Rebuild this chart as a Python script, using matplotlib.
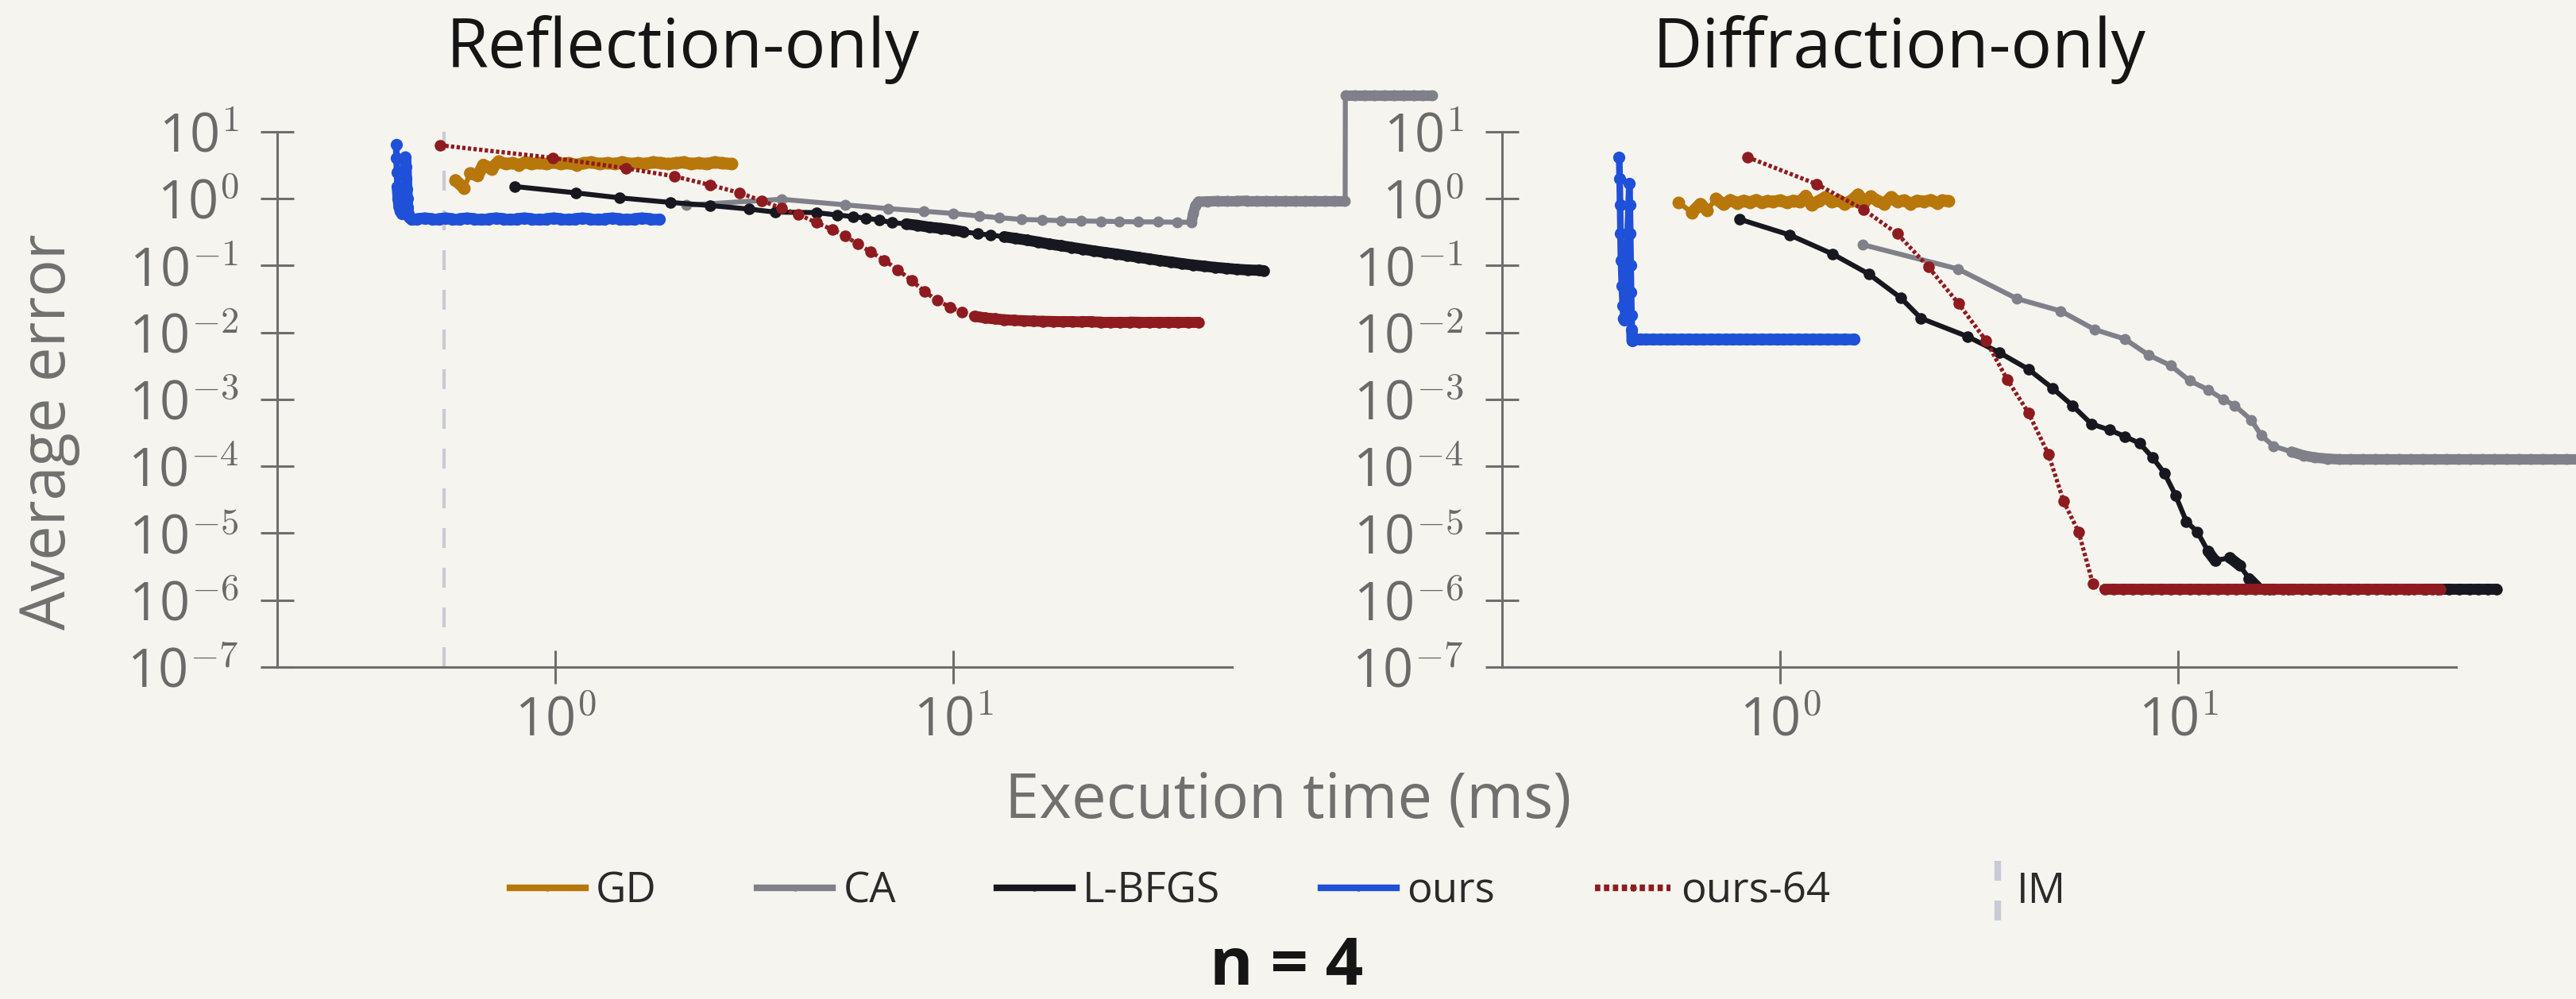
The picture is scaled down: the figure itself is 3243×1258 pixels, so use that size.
import numpy as np
import matplotlib
matplotlib.use('Agg')
import matplotlib.pyplot as plt
from matplotlib.lines import Line2D
from matplotlib.collections import LineCollection
from matplotlib.legend_handler import HandlerBase
from matplotlib.ticker import FixedLocator, FuncFormatter, NullLocator

# ---------------- data ----------------
methods = ['GD', 'CA', 'L-BFGS', 'ours', 'ours-64']
im_time_refl = 0.526

# Reflection-only
refl_gd_x = [0.561, 0.590, 0.61, 0.638, 0.659, 0.69, 0.72, 0.75, 0.78, 0.81, 0.84, 0.87, 0.91, 0.95, 0.99,
             1.03, 1.08, 1.13, 1.18, 1.23, 1.29, 1.35, 1.41, 1.47, 1.54, 1.61, 1.68, 1.76, 1.84, 1.92,
             2.01, 2.10, 2.19, 2.29, 2.40, 2.51, 2.62, 2.77]
refl_gd_y = [1.89, 1.43, 2.4, 2.2, 3.2, 2.8, 3.6, 3.3, 3.4, 3.2, 3.5, 3.3, 3.4, 3.3, 3.5,
             3.3, 3.4, 3.2, 3.4, 3.5, 3.3, 3.4, 3.3, 3.5, 3.3, 3.4, 3.3, 3.5, 3.4, 3.3,
             3.4, 3.5, 3.3, 3.4, 3.3, 3.5, 3.4, 3.3]

refl_ca_x = [2.13, 3.70, 5.33, 6.86, 8.42, 10.0, 11.6, 13.0, 14.8, 16.7, 18.6, 20.9, 23.4, 26.1, 29.1,
             32.6, 36.5, 39.6, 40.0, 40.5, 41.2, 43.5, 46.0, 48.7, 51.5, 54.5, 57.7, 61.0, 64.5, 68.2,
             72.2, 76.4, 80.8, 85.5, 90.5, 96.3, 96.4, 102, 108, 114, 121, 128, 135, 143, 151, 159]
refl_ca_y = [0.80, 0.98, 0.81, 0.71, 0.65, 0.60, 0.55, 0.52, 0.49, 0.48, 0.47, 0.465, 0.46, 0.455, 0.45,
             0.45, 0.445, 0.445, 0.60, 0.78, 0.90, 0.91, 0.92, 0.92, 0.92, 0.93, 0.93, 0.93, 0.93, 0.93,
             0.93, 0.93, 0.93, 0.93, 0.93, 0.93, 35, 35, 35, 35, 35, 35, 35, 35, 35, 35]

refl_lb_x = [0.791, 1.127, 1.45, 1.94, 2.45, 3.06, 3.56, 4.52, 5.1, 5.6, 6.03, 6.5, 7.0, 7.6, 8.1, 8.7,
             9.3, 10.0, 10.6, 11.5, 12.4, 13.4, 14.3, 15.3, 16.3, 17.4, 18.6, 19.8, 21.1, 22.5, 24.0,
             25.6, 27.3, 29.1, 31.0, 33.0, 35.2, 37.5, 40.0, 42.6, 45.4, 48.4, 51.5, 54.9, 58.5, 60.1]
refl_lb_y = [1.52, 1.22, 1.03, 0.88, 0.79, 0.70, 0.63, 0.62, 0.57, 0.54, 0.51, 0.48, 0.44, 0.42, 0.40, 0.375,
             0.36, 0.34, 0.32, 0.30, 0.286, 0.27, 0.255, 0.24, 0.225, 0.21, 0.198, 0.187, 0.176, 0.166, 0.157,
             0.149, 0.141, 0.133, 0.126, 0.119, 0.113, 0.107, 0.102, 0.098, 0.094, 0.091, 0.088, 0.086, 0.085,
             0.084]

refl_ours_x = [0.398, 0.399, 0.400, 0.401, 0.403, 0.405, 0.408, 0.412, 0.416, 0.420, 0.421, 0.422, 0.423,
               0.424, 0.425, 0.427, 0.430, 0.435, 0.45, 0.47, 0.49, 0.51, 0.53, 0.55, 0.575, 0.60, 0.625,
               0.65, 0.68, 0.71, 0.74, 0.77, 0.80, 0.835, 0.87, 0.91, 0.95, 0.99, 1.03, 1.08, 1.12, 1.17,
               1.22, 1.28, 1.33, 1.39, 1.45, 1.51, 1.58, 1.65, 1.73, 1.82]
refl_ours_y = [6.4, 4.0, 2.5, 1.5, 1.0, 0.75, 0.65, 0.60, 0.60, 4.2, 3.0, 2.0, 1.4,
               1.0, 0.75, 0.60, 0.52, 0.50, 0.50, 0.51, 0.50, 0.50, 0.51, 0.50, 0.50, 0.51, 0.50,
               0.50, 0.50, 0.51, 0.50, 0.50, 0.50, 0.51, 0.50, 0.50, 0.50, 0.51, 0.50, 0.50, 0.50, 0.51,
               0.50, 0.50, 0.50, 0.51, 0.50, 0.50, 0.50, 0.51, 0.50, 0.50]

refl_o64_x = [0.512, 0.986, 1.50, 1.99, 2.45, 2.9, 3.3, 3.7, 4.08, 4.52, 4.96, 5.33, 5.74, 6.2, 6.7, 7.25,
              7.85, 8.45, 9.1, 9.8, 10.5, 11.3, 12.0, 12.7, 13.4, 14.2, 15.0, 15.9, 16.8, 17.8, 18.8, 19.9,
              21.0, 22.2, 23.5, 24.8, 26.2, 27.7, 29.3, 31.0, 32.8, 34.7, 36.7, 38.9, 41.3]
refl_o64_y = [6.3, 4.07, 2.85, 2.16, 1.6, 1.22, 0.93, 0.72, 0.58, 0.44, 0.345, 0.28, 0.21, 0.16, 0.12, 0.086,
              0.06, 0.041, 0.030, 0.024, 0.020, 0.0175, 0.0165, 0.016, 0.0155, 0.0152, 0.015, 0.0148, 0.0147,
              0.0146, 0.0145, 0.0145, 0.0144, 0.0144, 0.0143, 0.0143, 0.0143, 0.0143, 0.0142, 0.0142, 0.0142,
              0.0142, 0.0142, 0.0142, 0.0142]

# Diffraction-only
diff_gd_x = [0.556, 0.60, 0.63, 0.655, 0.69, 0.72, 0.75, 0.78, 0.81, 0.84, 0.87, 0.90, 0.93, 0.96, 1.00,
             1.04, 1.08, 1.12, 1.16, 1.20, 1.25, 1.30, 1.35, 1.40, 1.45, 1.51, 1.57, 1.63, 1.69, 1.76,
             1.83, 1.90, 1.97, 2.05, 2.13, 2.21, 2.30, 2.39, 2.48, 2.56, 2.65]
diff_gd_y = [0.88, 0.62, 0.83, 0.67, 1.0, 0.82, 0.95, 0.86, 0.93, 0.88, 0.95, 0.87, 0.92, 0.90, 0.94,
             0.87, 0.93, 0.89, 1.1, 0.80, 0.92, 1.05, 0.89, 0.94, 0.84, 0.93, 1.15, 0.89, 1.08, 0.92,
             0.84, 1.05, 0.90, 0.94, 0.84, 0.93, 0.90, 0.95, 0.86, 0.94, 0.92]

diff_ca_x = [1.61, 2.80, 3.94, 5.07, 6.17, 7.35, 8.44, 9.6, 10.7, 11.9, 13.0, 13.9, 15.3, 16.2, 17.4, 19.3,
             20.7, 22.1, 23.7, 25.4, 27.2, 29.2, 31.3, 33.5, 35.9, 38.5, 41.2, 44.2, 47.3, 50.7, 54.4,
             58.3, 62.5, 67.0, 71.8, 77.0, 82.5, 88.4, 94.8, 101.6, 108.9, 116.7]
diff_ca_y = [0.206, 0.089, 0.032, 0.021, 0.0111, 0.0080, 0.0046, 0.0032, 0.0019, 0.0014, 0.00100, 8.1e-4,
             4.9e-4, 2.9e-4, 2.0e-4, 1.65e-4, 1.45e-4, 1.35e-4, 1.3e-4, 1.27e-4, 1.27e-4, 1.27e-4, 1.27e-4,
             1.27e-4, 1.27e-4, 1.27e-4, 1.27e-4, 1.27e-4, 1.27e-4, 1.27e-4, 1.27e-4, 1.27e-4, 1.27e-4,
             1.27e-4, 1.27e-4, 1.27e-4, 1.27e-4, 1.27e-4, 1.27e-4, 1.27e-4, 1.27e-4, 1.27e-4]

diff_lb_x = [0.79, 1.057, 1.355, 1.67, 2.01, 2.26, 2.96, 3.56, 4.21, 4.84, 5.43, 6.06, 6.73, 7.35, 8.02,
             8.63, 9.25, 9.86, 10.5, 11.2, 11.9, 12.4, 13.5, 14.3, 15.1, 15.8, 17.0, 19.0, 21.5, 24.0,
             27.0, 30.0, 34.0, 38.0, 42.0, 45.0, 48.0, 51.0, 54.0, 57.0, 60.0, 63.2]
diff_lb_y = [0.494, 0.287, 0.149, 0.075, 0.033, 0.0163, 0.0087, 0.0050, 0.00282, 0.00147, 0.00081,
             0.00043, 0.00035, 0.00028, 0.00022, 0.000136, 7.9e-5, 3.7e-5, 1.5e-5, 1.04e-5, 5.4e-6, 3.9e-6,
             4.3e-6, 3.3e-6, 2.1e-6, 1.6e-6, 1.45e-6, 1.45e-6, 1.45e-6, 1.45e-6, 1.45e-6, 1.45e-6, 1.45e-6,
             1.45e-6, 1.45e-6, 1.45e-6, 1.45e-6, 1.45e-6, 1.45e-6, 1.45e-6, 1.45e-6, 1.45e-6]

diff_ours_x = [0.394, 0.395, 0.396, 0.397, 0.398, 0.400, 0.402, 0.404, 0.406, 0.418, 0.419, 0.420, 0.421,
               0.422, 0.423, 0.424, 0.425, 0.427, 0.43, 0.445, 0.46, 0.48, 0.50, 0.52, 0.54, 0.565, 0.59,
               0.615, 0.64, 0.67, 0.70, 0.73, 0.76, 0.79, 0.825, 0.86, 0.90, 0.94, 0.98, 1.02, 1.06, 1.11,
               1.16, 1.21, 1.26, 1.32, 1.38, 1.45, 1.53]
diff_ours_y = [4.17, 2.0, 0.8, 0.3, 0.12, 0.05, 0.025, 0.016, 0.0154, 1.7, 0.8, 0.3, 0.1,
               0.04, 0.018, 0.011, 0.0075, 0.0078, 0.0080, 0.0080, 0.0080, 0.0080, 0.0080, 0.0080, 0.0080,
               0.0080, 0.0080, 0.0080, 0.0080, 0.0080, 0.0080, 0.0080, 0.0080, 0.0080, 0.0080, 0.0080,
               0.0080, 0.0080, 0.0080, 0.0080, 0.0080, 0.0080, 0.0080, 0.0080, 0.0080, 0.0080, 0.0080,
               0.0080, 0.0080]

diff_o64_x = [0.828, 1.236, 1.62, 1.97, 2.36, 2.81, 3.29, 3.72, 4.21, 4.73, 5.16, 5.63, 6.11, 6.55, 6.9,
              7.3, 7.7, 8.1, 8.6, 9.1, 9.6, 10.1, 10.7, 11.3, 11.9, 12.6, 13.3, 14.0, 14.8, 15.6, 16.5,
              17.4, 18.4, 19.4, 20.5, 21.6, 22.8, 24.1, 25.4, 26.8, 28.3, 29.9, 31.6, 33.3, 35.2, 37.1,
              39.2, 41.4, 43.5, 45.6]
diff_o64_y = [4.17, 1.65, 0.69, 0.30, 0.095, 0.027, 0.0076, 0.0020, 6.3e-4, 1.5e-4, 3.0e-5, 1.04e-5, 1.77e-6,
              1.45e-6, 1.45e-6, 1.45e-6, 1.45e-6, 1.45e-6, 1.45e-6, 1.45e-6, 1.45e-6, 1.45e-6, 1.45e-6,
              1.45e-6, 1.45e-6, 1.45e-6, 1.45e-6, 1.45e-6, 1.45e-6, 1.45e-6, 1.45e-6, 1.45e-6, 1.45e-6,
              1.45e-6, 1.45e-6, 1.45e-6, 1.45e-6, 1.45e-6, 1.45e-6, 1.45e-6, 1.45e-6, 1.45e-6, 1.45e-6,
              1.45e-6, 1.45e-6, 1.45e-6, 1.45e-6, 1.45e-6, 1.45e-6, 1.45e-6]

panel_titles = ['Reflection-only', 'Diffraction-only']
x_label = 'Execution time (ms)'
y_label = 'Average error'
figure_label = 'n = 4'
x_ticks = [1, 10]
y_tick_exps = list(range(-7, 2))

# ---------------- style ----------------
plt.rcParams['font.family'] = ['Open Sans', 'DejaVu Sans']
plt.rcParams['mathtext.fontset'] = 'cm'

BG = '#f5f4ee'
AXC = '#6e6e6e'
TICKC = '#6a6a6a'
colors = {'GD': '#b8770b', 'CA': '#80808a', 'L-BFGS': '#17171f', 'ours': '#1f50d8', 'ours-64': '#8e1b20'}
IMC = '#c8cad6'
line_kw = {
    'GD': dict(lw=4.5, ls='-', marker='o', ms=11.5),
    'CA': dict(lw=4.5, ls='-', marker='o', ms=10),
    'L-BFGS': dict(lw=4.5, ls='-', marker='o', ms=10.5),
    'ours': dict(lw=6, ls='-', marker='o', ms=11),
    'ours-64': dict(lw=3.8, ls=(0, (0.8, 0.55)), marker='o', ms=10.5),
}
DENSE_PX = 16  # consecutive markers closer than this merge into a solid band

fig = plt.figure(figsize=(32.43, 12.58), dpi=100, facecolor=BG)
axL = fig.add_axes([0.1076, 0.3323, 0.3706, 0.5358])
axR = fig.add_axes([0.5831, 0.3323, 0.3703, 0.5358])

fmt = FuncFormatter(lambda v, p: '10' + r'$^{%d}$' % int(round(np.log10(v))))

for ax in (axL, axR):
    ax.set_xscale('log')
    ax.set_yscale('log')
    ax.set_xlim(0.2, 50)
    ax.set_ylim(1e-7, 1e1)
    ax.set_facecolor(BG)
    for s in ('top', 'right'):
        ax.spines[s].set_visible(False)
    for s in ('left', 'bottom'):
        ax.spines[s].set_color(AXC)
        ax.spines[s].set_linewidth(2.2)
    ax.xaxis.set_major_locator(FixedLocator(x_ticks))
    ax.xaxis.set_minor_locator(NullLocator())
    ax.yaxis.set_major_locator(FixedLocator([10.0 ** k for k in y_tick_exps]))
    ax.yaxis.set_minor_locator(NullLocator())
    ax.xaxis.set_major_formatter(fmt)
    ax.yaxis.set_major_formatter(fmt)
    ax.tick_params(which='major', direction='inout', length=30, width=2.2, color=AXC,
                   labelcolor=TICKC, labelsize=48)
    ax.tick_params(axis='y', pad=20)
    ax.tick_params(axis='x', pad=10)

axL.axvline(im_time_refl, color=IMC, lw=3, ls=(0, (6, 6)), zorder=1)

series_L = {'GD': (refl_gd_x, refl_gd_y), 'CA': (refl_ca_x, refl_ca_y), 'L-BFGS': (refl_lb_x, refl_lb_y),
            'ours': (refl_ours_x, refl_ours_y), 'ours-64': (refl_o64_x, refl_o64_y)}
series_R = {'GD': (diff_gd_x, diff_gd_y), 'CA': (diff_ca_x, diff_ca_y), 'L-BFGS': (diff_lb_x, diff_lb_y),
            'ours': (diff_ours_x, diff_ours_y), 'ours-64': (diff_o64_x, diff_o64_y)}

for ax, ser in ((axL, series_L), (axR, series_R)):
    for i, m in enumerate(methods):
        x, y = ser[m]
        kw = line_kw[m]
        ax.plot(x, y, color=colors[m], markeredgewidth=0, clip_on=False, zorder=3 + i,
                label=m, **kw)
        # overlapping markers in dense runs look like a solid band
        xy = np.column_stack([x, y])
        pix = ax.transData.transform(xy)
        d = np.hypot(*np.diff(pix, axis=0).T)
        segs = [xy[k:k + 2] for k in range(len(d)) if d[k] < DENSE_PX]
        if segs:
            lc = LineCollection(segs, colors=colors[m], linewidths=kw['ms'] * 0.95,
                                capstyle='round', joinstyle='round', zorder=3 + i, clip_on=False)
            ax.add_collection(lc)

for t, cx in ((panel_titles[0], 860 / 3243), (panel_titles[1], 2391 / 3243)):
    fig.text(cx, 1 - 85 / 1258, t, ha='center', va='baseline', fontsize=62, color='#151515')

fig.text(62 / 3243, 1 - 544 / 1258, y_label, rotation=90, ha='center', va='center', fontsize=56, color='#707070')
fig.text(0.5, 1 - 1009 / 1258, x_label, ha='center', va='center', fontsize=56, color='#707070')


class VLineHandler(HandlerBase):
    def create_artists(self, legend, orig_handle, xdescent, ydescent, width, height, fontsize, trans):
        x = width * 0.88 - xdescent
        ln = Line2D([x, x], [-0.6 * height - ydescent, 1.6 * height - ydescent], color=IMC, lw=3,
                    ls=(0, (3, 3)), transform=trans)
        return [ln]


im_handle = Line2D([], [], color=IMC, lw=3)
leg_handles = []
for m in methods:
    kw = dict(line_kw[m])
    kw['ms'] = 6
    leg_handles.append(Line2D([], [], color=colors[m], markeredgewidth=0, **kw))
leg = fig.legend(leg_handles + [im_handle], methods + ['IM'], loc='center', bbox_to_anchor=(0.5, 1 - 1123 / 1258),
                 ncol=6, frameon=False, fontsize=38, handlelength=1.8, handletextpad=0.25, columnspacing=2.4,
                 handler_map={im_handle: VLineHandler()})
for txt in leg.get_texts():
    txt.set_color('#2a2a2a')
for lh in leg.get_lines():
    lh.set_linewidth(6)

fig.text(0.4995, 0.014, figure_label, ha='center', va='baseline', fontsize=60, fontweight='bold', color='#151515')

fig.savefig('out.png', dpi=100, facecolor=BG)
